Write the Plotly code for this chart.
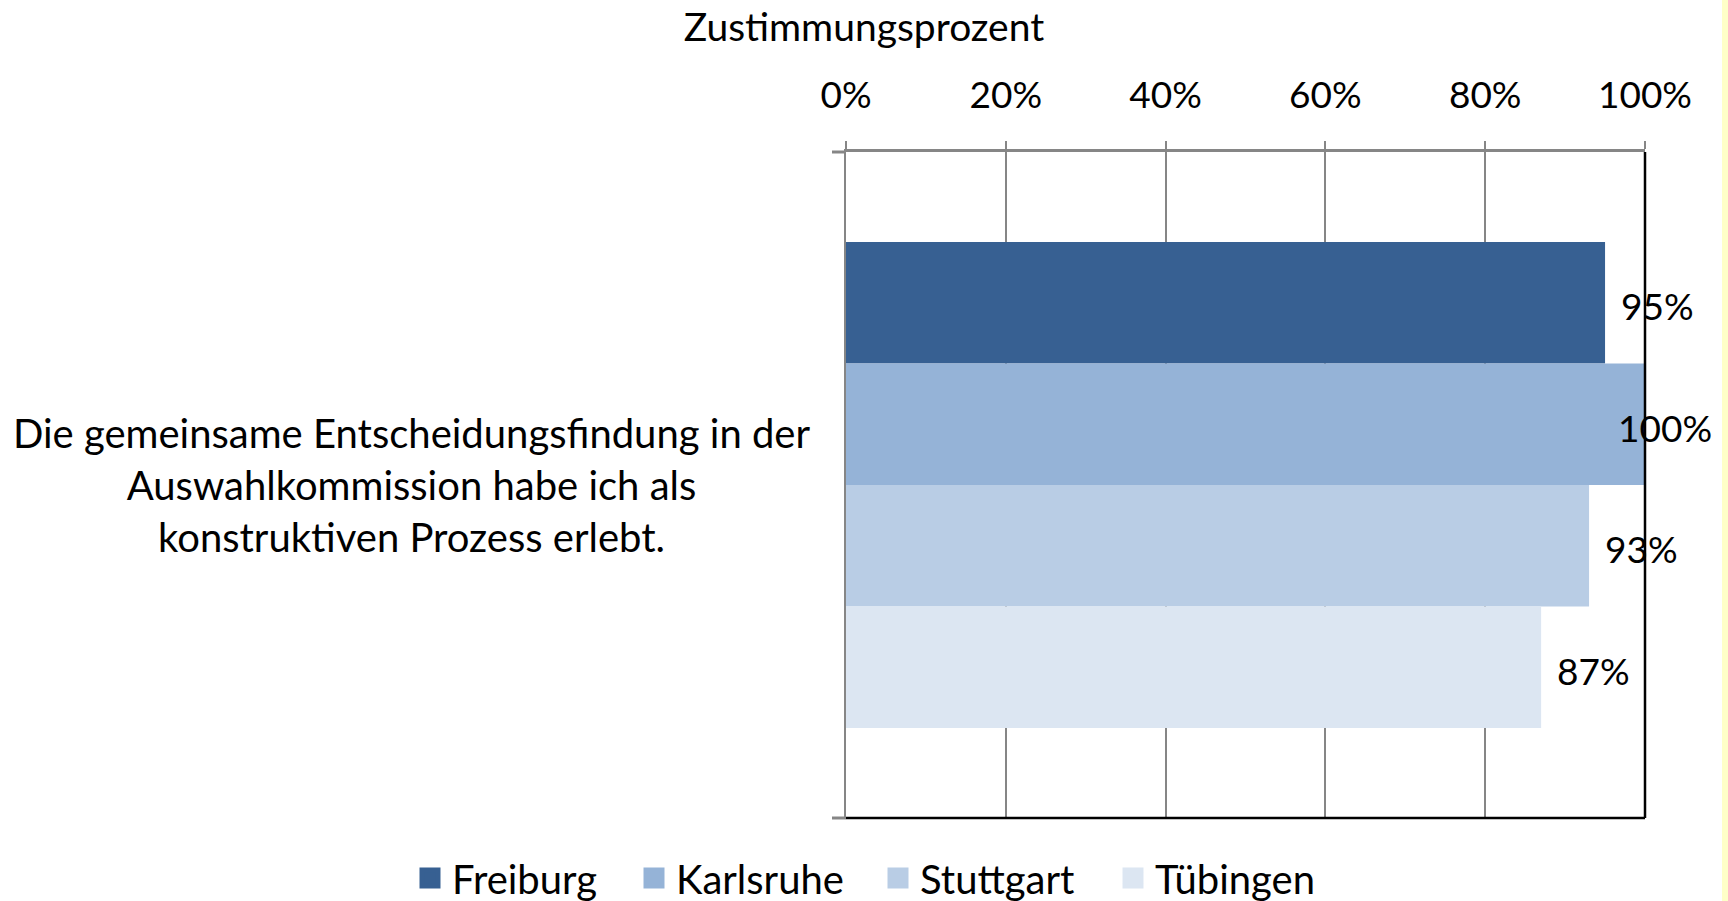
import plotly.graph_objects as go

category = ["Die gemeinsame Entscheidungsfindung in der<br>Auswahlkommission habe ich als<br>konstruktiven Prozess erlebt."]
cities = ["Freiburg", "Karlsruhe", "Stuttgart", "Tübingen"]
values = [95, 100, 93, 87]
colors = ["#376092", "#95B3D7", "#B9CDE5", "#DCE6F2"]
tick_vals = [0, 20, 40, 60, 80, 100]
tick_text = ["0%", "20%", "40%", "60%", "80%", "100%"]
axis_title = "Zustimmungsprozent"

FONT = "Lato"
FS_TEXT = 40
FS_NUM = 37
FS_LEG = 40

L, R, T, B = 846, 83, 152, 83
PW = 1728 - L - R
PH = 901 - T - B
BARGAP = 0.27

# legend entry positions (left edge of each legend box, in px)
legend_left_px = [408, 632, 876, 1111]

fig = go.Figure()
for city, v, c in zip(cities, values, colors):
    fig.add_trace(go.Bar(
        y=[0], x=[v], name=city, orientation="h",
        marker=dict(color=c, line=dict(width=0)),
        showlegend=False, hoverinfo="x+name",
    ))

legend_ids = ["legend", "legend2", "legend3", "legend4"]
# legend-only entries with larger square symbols, one legend box per city
for city, c, lid in zip(cities, colors, legend_ids):
    fig.add_trace(go.Scatter(
        x=[None], y=[None], mode="markers", name=city, legend=lid,
        marker=dict(symbol="square", size=16, color=c, line=dict(color=c, width=5)),
        showlegend=True,
    ))

# value labels
n = len(values)
for i, v in enumerate(values):
    offset = (i - (n - 1) / 2) * (1 - BARGAP) / n
    if v >= 99:
        fig.add_annotation(x=v, y=offset, xref="x", yref="y", text=f"{v}%",
                           xanchor="right", xshift=69, yshift=-3, yanchor="middle", showarrow=False,
                           font=dict(family=FONT, size=FS_NUM, color="black"))
    else:
        fig.add_annotation(x=v, y=offset, xref="x", yref="y", text=f"{v}%",
                           xanchor="left", xshift=14, yshift=-3, yanchor="middle", showarrow=False,
                           font=dict(family=FONT, size=FS_NUM, color="black"))

legend_y = -(878 - (T + PH)) / PH
legend_layout = {}
for lid, lx in zip(legend_ids, legend_left_px):
    legend_layout[lid] = dict(
        orientation="h", xref="paper", yref="paper",
        x=(lx - L) / PW, xanchor="left", y=legend_y, yanchor="middle",
        font=dict(family=FONT, size=FS_LEG), itemwidth=34,
        bgcolor="rgba(0,0,0,0)",
    )

fig.update_layout(
    width=1728, height=901,
    margin=dict(l=L, r=R, t=T, b=B, autoexpand=False),
    paper_bgcolor="white", plot_bgcolor="white",
    barmode="group", bargap=BARGAP, bargroupgap=0,
    font=dict(family=FONT, size=FS_TEXT, color="black"),
    showlegend=True,
    title=dict(text=axis_title, xref="container", yref="container",
               x=0.5, xanchor="center", y=1 - 27 / 901, yanchor="middle",
               font=dict(family=FONT, size=39, color="black")),
    **legend_layout,
)

fig.update_xaxes(
    side="top", range=[0, 100], tickvals=tick_vals, ticktext=tick_text,
    showgrid=True, gridcolor="#868686", gridwidth=2,
    showline=True, linecolor="#868686", linewidth=3,
    ticks="outside", ticklen=8, tickcolor="#868686", tickwidth=2,
    ticklabelstandoff=18, zeroline=False,
    tickfont=dict(family=FONT, size=FS_NUM, color="black"),
)
fig.update_yaxes(
    range=[0.5, -0.5], autorange=False, showticklabels=False,
    showline=True, linecolor="#868686", linewidth=2, showgrid=False,
    zeroline=False,
)

fig.add_annotation(
    text=category[0], xref="paper", yref="y", x=(411 - L) / PW, y=0,
    xanchor="center", yanchor="middle", align="center", showarrow=False,
    font=dict(family=FONT, size=FS_TEXT, color="black"),
)

# bottom and right black border, small left ticks, yellow strip
fig.add_shape(type="line", xref="x domain", yref="y domain", x0=0, x1=1, y0=0, y1=0,
              line=dict(color="black", width=2.5))
fig.add_shape(type="line", xref="x domain", yref="y domain", x0=1, x1=1, y0=0, y1=1,
              line=dict(color="black", width=2.5))
for yy in [0, 1]:
    fig.add_shape(type="line", xref="paper", yref="y domain", x0=-14 / PW, x1=0, y0=yy, y1=yy,
                  line=dict(color="#868686", width=3))
fig.add_shape(type="rect", xref="paper", yref="paper", x0=(1722 - L) / PW, x1=(1730 - L) / PW,
              y0=-B / PH, y1=1 + T / PH, line=dict(width=0), fillcolor="#FFFFC8", layer="below")

fig.write_html("out.html", config={"displayModeBar": False},
               post_script="document.body.style.margin='0';document.body.style.overflow='hidden';")
